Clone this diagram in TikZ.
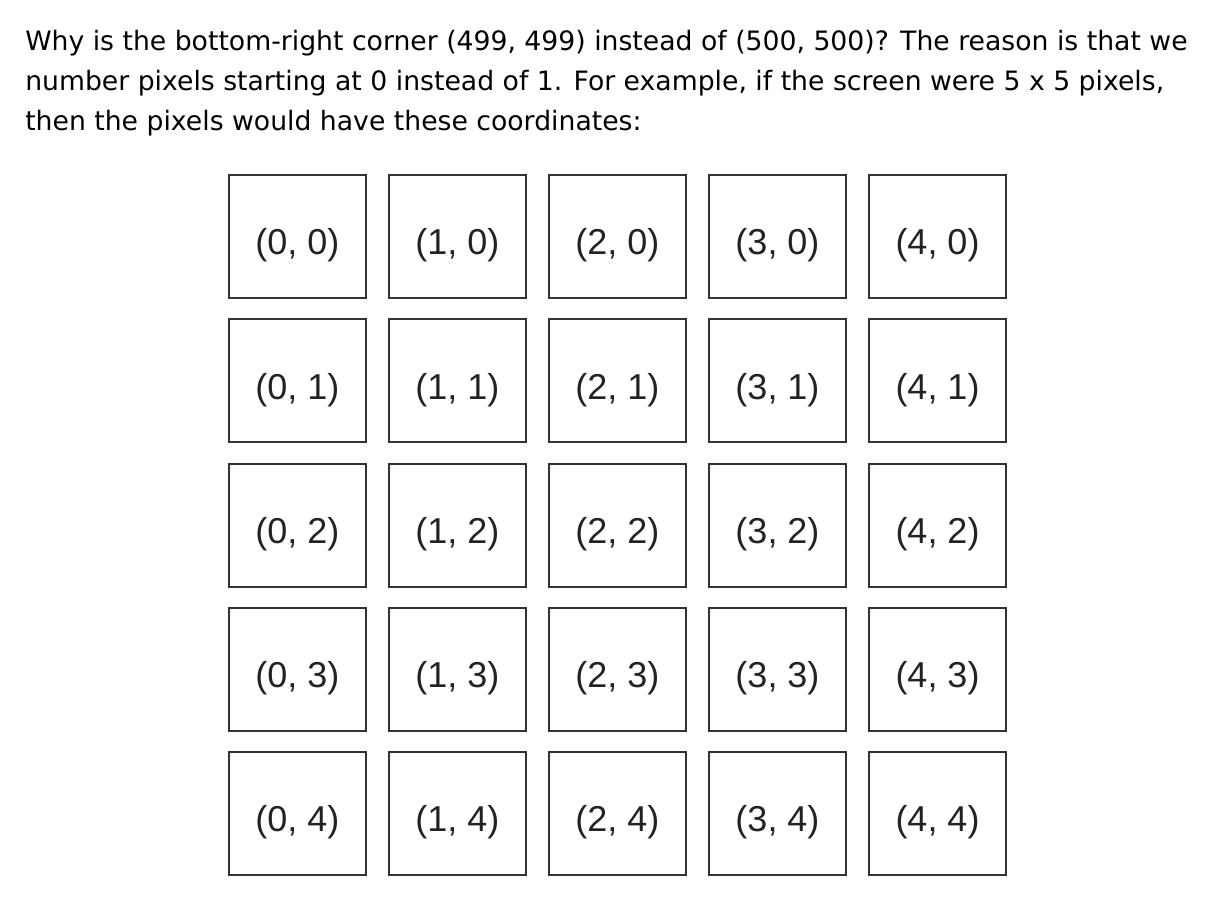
\documentclass[tikz,border=0pt]{standalone}
\usepackage{fontspec}
\setmainfont{DejaVu Sans}
\newfontfamily\cellfont{Liberation Sans}
\definecolor{boxgray}{HTML}{333333}
\definecolor{labelgray}{HTML}{222222}
\tikzset{
  introline/.style={anchor=base west, inner sep=0pt, font=\fontsize{20}{24}\selectfont},
  pixcell/.style={draw=boxgray, line width=1.5pt, minimum width=102.75pt, minimum height=92.25pt,
    inner sep=0pt, outer sep=0pt, text height=27.5pt, text depth=0pt,
    text=labelgray, font=\cellfont\fontsize{27}{30}\selectfont}
}
\begin{document}
\begin{tikzpicture}[x=0.75pt, y=-0.75pt]
    \useasboundingbox (0,0) rectangle (1206,902);

    % Explanatory text
    \node[introline] (line1) at (25,51) {Why is the bottom-right corner (499, 499) instead of (500, 500)? The reason is that we};
    \node[introline] (line2) at (25,91) {number pixels starting at 0 instead of 1. For example, if the screen were 5 x 5 pixels,};
    \node[introline] (line3) at (25,131) {then the pixels would have these coordinates:};

    % 5 x 5 pixel grid
    \foreach \x in {0,...,4} {
        \foreach \y in {0,...,4} {
            \node[pixcell] (pix\x\y) at (297.5+160*\x, 236.5+144.25*\y) {(\x, \y)};
        }
    }

\end{tikzpicture}
\end{document}
